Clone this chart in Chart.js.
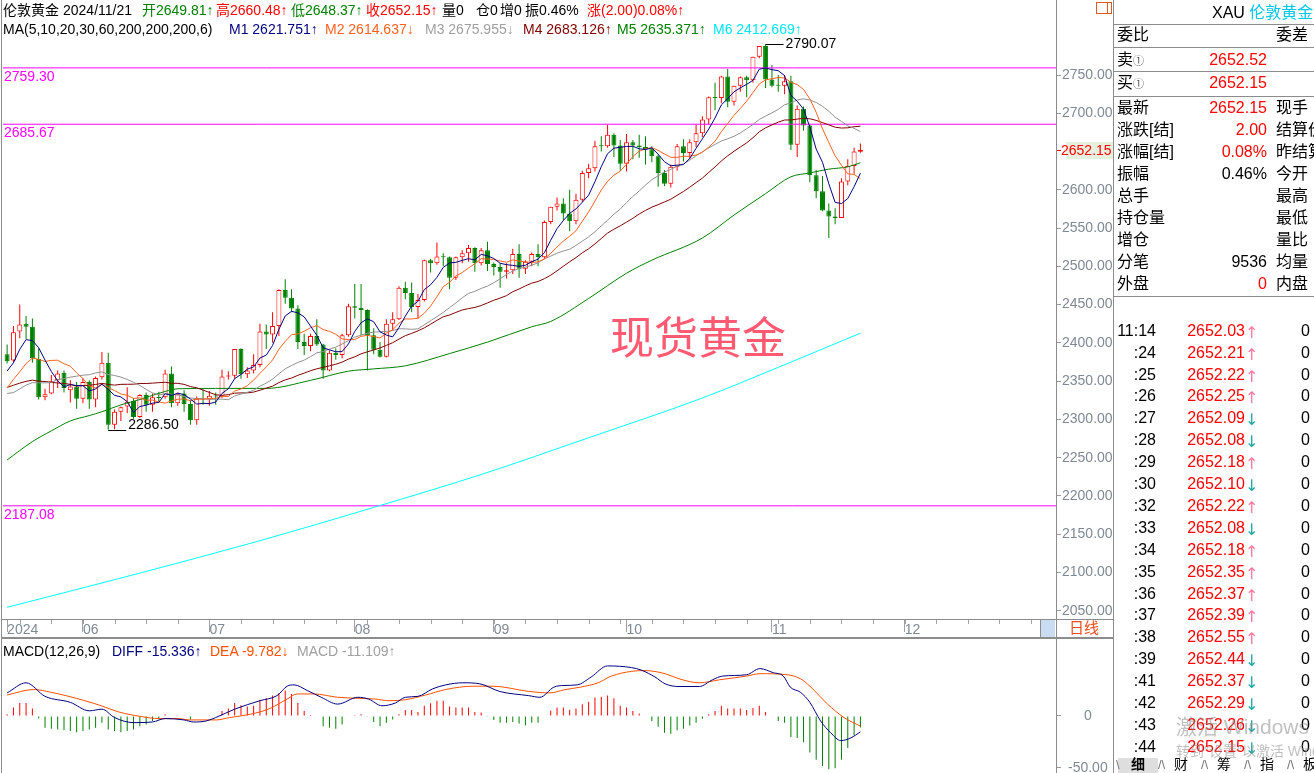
<!DOCTYPE html>
<html lang="zh">
<head>
<meta charset="utf-8">
<title>伦敦黄金 日线</title>
<script src="https://cdn.jsdelivr.net/npm/chart.js@4.4.1/dist/chart.umd.min.js"></script>
<style>
  html, body { margin: 0; padding: 0; background: #fff; }
  body { position: relative; width: 1314px; height: 773px; overflow: hidden;
         font-family: "Liberation Sans", "Noto Sans CJK SC", sans-serif; color: #000; }
  canvas { position: absolute; left: 0; }
  #kline { top: 0; }
  #macd { top: 638px; }
  .t { position: absolute; white-space: pre; font-size: 14px; line-height: 16px; }
  .p { position: absolute; white-space: pre; font-size: 16px; line-height: 20px; }
  .ln { position: absolute; background: #8c8c8c; }
  .wm { position: absolute; left: 610px; top: 311px; font-size: 44px; line-height: 48px;
        color: #ff5a72; font-family: "Noto Sans CJK SC", sans-serif; }
</style>
</head>
<body>
<canvas id="kline" width="1114" height="638"></canvas>
<canvas id="macd" width="1114" height="135"></canvas>
<div class="wm">现货黄金</div>
<script>
// daily candles, 2024-05-16 .. 2024-11-21 (index 0 .. 135)
const opens = [
  2385,2377,2415,2425,2421,2379,2329,2334,2351,2361,
  2338,2343,2327,2349,2326,2355,2374,2293,2310,2317,
  2324,2303,2332,2319,2329,2329,2360,2321,2334,2320,
  2299,2327,2326,2331,2330,2356,2357,2392,2359,2364,
  2371,2415,2411,2422,2469,2459,2445,2401,2396,2409,
  2398,2364,2387,2384,2410,2448,2446,2443,2410,2391,
  2382,2425,2431,2472,2465,2447,2456,2508,2504,2513,
  2512,2485,2512,2517,2524,2504,2521,2503,2499,2493,
  2495,2516,2497,2506,2516,2512,2558,2578,2582,2569,
  2559,2587,2622,2628,2658,2657,2672,2658,2634,2662,
  2658,2656,2653,2644,2622,2608,2630,2657,2648,2662,
  2674,2692,2721,2720,2748,2715,2736,2747,2743,2774,
  2788,2744,2737,2736,2742,2659,2706,2684,2619,2598,
  2573,2565,2563,2611,2631,2649.81
];
const highs = [
  2398,2422,2450,2435,2432,2393,2340,2358,2364,2364,
  2351,2349,2354,2351,2356,2388,2387,2313,2317,2342,
  2328,2333,2335,2334,2336,2365,2369,2335,2338,2325,
  2330,2339,2337,2335,2365,2363,2392,2393,2368,2385,
  2425,2424,2440,2470,2483,2470,2449,2412,2412,2431,
  2399,2390,2393,2412,2451,2477,2477,2444,2419,2401,
  2431,2440,2474,2480,2479,2464,2509,2510,2531,2517,
  2513,2513,2521,2528,2525,2524,2532,2505,2504,2504,
  2523,2529,2508,2518,2529,2560,2578,2590,2589,2600,
  2595,2625,2634,2664,2670,2685,2674,2665,2673,2665,
  2672,2670,2657,2646,2626,2633,2660,2666,2666,2685,
  2696,2722,2740,2749,2758,2736,2748,2749,2774,2786,
  2790.07,2763,2750,2750,2749,2710,2709,2685,2626,2618,
  2582,2576,2615,2640,2655,2660.48
];
const lows = [
  2373,2374,2406,2405,2374,2326,2325,2333,2341,2335,
  2322,2314,2321,2314,2316,2352,2286.5,2287,2298,2308,
  2301,2302,2310,2310,2323,2327,2316,2318,2310,2293,
  2293,2319,2318,2319,2328,2352,2353,2353,2354,2360,
  2368,2392,2400,2409,2451,2440,2392,2384,2389,2396,
  2353,2363,2378,2380,2408,2432,2410,2364,2385,2381,
  2381,2416,2430,2457,2440,2432,2454,2492,2502,2500,
  2470,2482,2504,2506,2493,2501,2494,2488,2472,2484,
  2490,2485,2490,2500,2500,2510,2555,2573,2560,2546,
  2555,2584,2615,2624,2650,2655,2643,2625,2624,2640,
  2642,2633,2636,2604,2605,2603,2625,2637,2640,2656,
  2669,2685,2704,2713,2708,2710,2728,2721,2740,2772,
  2733,2734,2728,2725,2652,2643,2677,2610,2589,2572,
  2537,2555,2563,2606,2621,2648.37
];
const closes = [
  2376,2414,2424,2421,2380,2329,2333,2350,2360,2341,
  2343,2327,2349,2326,2354,2374,2293,2310,2316,2323,
  2303,2332,2319,2329,2328,2360,2321,2333,2320,2299,
  2327,2326,2331,2330,2356,2357,2392,2359,2364,2371,
  2415,2411,2422,2469,2459,2445,2401,2396,2409,2398,
  2364,2387,2384,2410,2448,2446,2443,2410,2391,2382,
  2425,2431,2472,2465,2447,2456,2508,2504,2513,2512,
  2485,2512,2517,2524,2504,2521,2503,2499,2493,2495,
  2516,2497,2506,2516,2512,2558,2578,2582,2569,2559,
  2587,2622,2628,2657,2657,2672,2658,2634,2662,2658,
  2656,2653,2644,2622,2608,2630,2657,2648,2662,2674,
  2692,2721,2720,2748,2715,2736,2747,2743,2774,2788,
  2744,2736,2736,2742,2659,2706,2684,2619,2598,2573,
  2565,2563,2611,2631,2650,2652.15
];

// moving averages (M1..M4 one value per candle)
const ma5 = [
  2363.2,2374.0,2391.6,2404.2,2403.0,2393.6,2377.4,2362.6,2350.4,2342.6,
  2345.4,2344.2,2344.0,2337.2,2339.8,2346.0,2339.2,2331.4,2329.4,2323.2,
  2309.0,2316.8,2318.6,2321.2,2322.2,2333.6,2331.4,2334.2,2332.4,2326.6,
  2320.0,2321.0,2320.6,2322.6,2334.0,2340.0,2353.2,2358.8,2365.6,2368.6,
  2380.2,2384.0,2396.6,2417.6,2435.2,2441.2,2439.2,2434.0,2422.0,2409.8,
  2393.6,2390.8,2388.4,2388.6,2398.6,2415.0,2426.2,2431.4,2427.6,2414.4,
  2410.2,2407.8,2420.2,2435.0,2448.0,2454.2,2469.6,2476.0,2485.6,2498.6,
  2504.4,2505.2,2507.8,2510.0,2508.4,2515.6,2513.8,2510.2,2504.0,2502.2,
  2501.2,2500.0,2501.4,2506.0,2509.4,2517.8,2534.0,2549.2,2559.8,2569.2,
  2575.0,2583.8,2593.0,2610.6,2630.2,2647.2,2654.4,2655.6,2656.6,2656.8,
  2653.6,2652.6,2654.6,2646.6,2636.6,2631.4,2632.2,2633.0,2641.0,2654.2,
  2666.6,2679.4,2693.8,2711.0,2719.2,2728.0,2733.2,2737.8,2743.0,2757.6,
  2759.2,2757.0,2755.6,2749.2,2723.4,2715.8,2705.4,2682.0,2653.2,2636.0,
  2607.8,2583.6,2582.0,2588.6,2604.0,2621.8
];
const ma10 = [
  2340.9,2352.2,2362.3,2373.0,2380.1,2378.4,2375.7,2377.1,2377.3,2372.8,
  2369.5,2360.8,2353.3,2343.8,2341.2,2345.7,2341.7,2337.7,2333.3,2331.5,
  2327.5,2328.0,2325.0,2325.3,2322.7,2321.3,2324.1,2326.4,2326.8,2324.4,
  2326.8,2326.2,2327.4,2327.5,2330.3,2330.0,2337.1,2339.7,2344.1,2351.3,
  2360.1,2368.6,2377.7,2391.6,2401.9,2410.7,2411.6,2415.3,2419.8,2422.5,
  2417.4,2415.0,2411.2,2405.3,2404.2,2404.3,2408.5,2409.9,2408.1,2406.5,
  2412.6,2417.0,2425.8,2431.3,2431.2,2432.2,2438.7,2448.1,2460.3,2473.3,
  2479.3,2487.4,2491.9,2497.8,2503.5,2510.0,2509.5,2509.0,2507.0,2505.3,
  2508.4,2506.9,2505.8,2505.0,2505.8,2509.5,2517.0,2525.3,2532.9,2539.3,
  2546.4,2558.9,2571.1,2585.2,2599.7,2611.1,2619.1,2624.3,2633.6,2643.5,
  2650.4,2653.5,2655.1,2651.6,2646.7,2642.5,2642.4,2643.8,2643.8,2645.4,
  2649.0,2655.8,2663.4,2676.0,2686.7,2697.3,2706.3,2715.8,2727.0,2738.4,
  2743.6,2745.1,2746.7,2746.1,2740.5,2737.5,2731.2,2718.8,2701.2,2679.7,
  2661.8,2644.5,2632.0,2620.9,2620.0,2614.6
];
const ma20 = [
  2333.9,2335.0,2339.9,2344.8,2348.0,2347.9,2347.7,2348.4,2352.1,2353.2,
  2355.2,2356.5,2357.8,2358.4,2360.7,2362.1,2358.7,2357.4,2355.3,2352.2,
  2348.5,2344.4,2339.2,2334.6,2332.0,2333.5,2332.9,2332.1,2330.1,2328.0,
  2327.2,2327.1,2326.2,2326.4,2326.5,2325.7,2330.6,2333.1,2335.5,2337.9,
  2343.5,2347.4,2352.6,2359.6,2366.1,2370.4,2374.4,2377.5,2382.0,2386.9,
  2388.8,2391.8,2394.5,2398.5,2403.1,2407.5,2410.1,2412.6,2414.0,2414.5,
  2415.0,2416.0,2418.5,2418.3,2417.7,2418.3,2423.6,2429.0,2434.2,2439.9,
  2446.0,2452.2,2458.9,2464.6,2467.4,2471.1,2474.1,2478.6,2483.7,2489.3,
  2493.9,2497.2,2498.9,2501.4,2504.7,2509.8,2513.3,2517.2,2520.0,2522.3,
  2527.4,2532.9,2538.5,2545.1,2552.8,2560.3,2568.1,2574.8,2583.3,2591.4,
  2598.4,2606.2,2613.1,2618.4,2623.2,2626.8,2630.8,2634.1,2638.7,2644.5,
  2649.7,2654.7,2659.3,2663.8,2666.7,2669.9,2674.4,2679.8,2685.4,2691.9,
  2696.3,2700.5,2705.1,2711.1,2713.6,2717.4,2718.8,2717.3,2714.1,2709.1,
  2702.7,2694.8,2689.4,2683.5,2680.3,2676.0
];
const ma30 = [
  2341.8,2344.6,2347.4,2349.7,2351.3,2349.9,2349.5,2348.4,2347.6,2347.0,
  2345.8,2343.6,2344.3,2344.5,2345.7,2347.1,2345.7,2344.8,2345.8,2345.9,
  2346.0,2347.0,2346.9,2347.4,2348.0,2348.5,2347.2,2347.1,2345.8,2342.9,
  2341.3,2338.3,2335.2,2332.2,2331.4,2332.3,2334.3,2334.6,2334.7,2335.7,
  2338.1,2340.9,2343.4,2348.1,2351.6,2354.0,2357.6,2360.5,2363.6,2366.1,
  2368.1,2369.9,2372.1,2374.8,2378.8,2381.7,2385.7,2388.3,2390.7,2393.4,
  2396.7,2400.2,2404.9,2409.4,2412.4,2415.7,2419.6,2424.4,2429.4,2434.1,
  2436.4,2439.8,2443.0,2444.8,2446.3,2448.8,2452.2,2455.7,2458.5,2461.7,
  2466.8,2470.4,2474.5,2478.0,2480.2,2483.9,2488.4,2494.1,2500.1,2506.0,
  2511.4,2517.7,2522.9,2529.3,2536.3,2543.5,2548.5,2552.9,2557.8,2562.7,
  2568.4,2573.1,2577.3,2580.6,2584.1,2587.7,2592.8,2597.8,2603.4,2609.4,
  2615.3,2622.7,2629.9,2637.6,2644.4,2650.3,2655.9,2661.3,2668.1,2675.8,
  2681.0,2684.8,2688.4,2691.2,2691.3,2692.4,2693.3,2692.8,2690.7,2687.8,
  2684.8,2681.8,2680.7,2681.0,2682.4,2683.1
];
// M5 / M6 read at spaced candles: [candle index, value]
const ma60Pts = [[0,2247],[4,2271],[7,2285],[10,2298],[13,2305],[15,2310],[18,2319],[21,2326],
  [24,2334],[27,2340],[33,2340.5],[41,2340.5],[48,2351],[54,2363],[58,2366],[63,2370],[70,2386],
  [76,2401],[83,2421],[86,2428],[92,2458],[98,2491],[102,2508],[110,2537],[115,2567],[120,2595],
  [124,2617],[127,2622],[130,2627],[133,2630],[135,2635.4]];
const ma200Pts = [[0,2054.5],[20,2097],[40,2141.5],[58,2185],[75,2228],[92,2276],[110,2328],
  [122,2368],[135,2412.7]];

const levels = [2759.30, 2685.67, 2187.08];
const lastPrice = 2652.15;
const yTicks = [2050,2100,2150,2200,2250,2300,2350,2400,2450,2500,2550,2600,2700,2750];
const monthLabels = ['2024','06','07','08','09','10','11','12'];
const monthIdx = [0, 12, 32, 55, 77, 98, 121, 142];
const weekIdx = [2,7,12,17,22,27,32,37,42,47,52,57,62,67,72,77,82,87,92,97,102,107,112,117,
  122,127,132,137,142,147,152,157,162];

// MACD(12,26,9)
const diffPts = [[0,22.3],[3,32.1],[6,19.0],[10,13.2],[13,5.0],[15,6.6],[17,-1.5],[20,-6.4],
  [23,-5.8],[25,-2.5],[28,-3.8],[29.5,-5.8],[31.5,-4.8],[33,-1.5],[36,6.6],[40,14.8],[42.7,19.7],
  [44.3,28.8],[45.4,30.1],[47.5,24.6],[49.7,18.1],[52.3,11.5],[55.5,18.1],[57.2,16.4],[59.3,9.9],
  [61.4,12.5],[63,18.1],[65,19.0],[67.3,26.2],[69.4,30.1],[72.1,32.1],[74.8,31.1],[78,23.6],
  [82.5,19.7],[84.3,18.1],[86.5,27.9],[88.1,29.5],[90.2,30.1],[92.4,37.7],[95,48.4],[98.8,46.8],
  [100.4,44.2],[102.5,37.7],[104.1,31.1],[106.3,28.5],[109.5,28.5],[111.6,35.0],[113.2,38.6],
  [117,39.9],[119.1,45.8],[121.2,41.9],[122.8,38.6],[123.9,27.9],[125.5,23.0],[127,13.2],
  [128.7,-4.8],[130.3,-16.2],[131.9,-23.8],[133.5,-21.1],[135,-15.3]];
const deaPts = [[0,20.3],[4.2,25.6],[6.9,23.0],[12.3,14.8],[14.9,9.9],[17.6,4.0],[21.3,-0.6],
  [24,-2.5],[27.2,-2.5],[28.8,-3.8],[33.1,-3.8],[35.2,-1.5],[38.5,1.7],[41.6,7.3],[44.3,16.4],
  [45.9,21.3],[48.5,21.3],[52.3,18.1],[55.5,17.1],[58.2,16.4],[60.4,14.8],[63,15.7],[66.2,20.3],
  [69.4,25.6],[73.7,28.8],[76.9,28.8],[82.5,23.8],[85.9,22.3],[88.1,25.3],[90.7,27.9],[93.5,32.1],
  [95.6,38.6],[98.8,43.2],[100.9,43.9],[104.1,40.9],[106.3,36.0],[109.5,32.1],[112.7,35.0],
  [117,38.6],[119.1,40.9],[123.4,39.9],[125.5,36.0],[127,28.8],[129.8,11.5],[132.4,-1.5],[135,-9.8]];
const macdHist = [
  1.7,8.3,12.5,12.5,7.3,-2.5,-11.4,-12.3,-13.0,-13.6,
  -14.6,-15.6,-14.6,-13.0,-11.4,-6.5,-13.0,-14.6,-15.6,-14.6,
  -13.0,-9.8,-8.2,-4.9,-3.3,1.6,-0.5,0.3,0.8,-3.3,
  -0.6,0.4,0.2,0.4,4.9,7.2,12.5,10.5,9.2,9.8,
  15.8,17.1,19.7,22.3,24.6,21.3,12.5,4.9,1.0,-0.5,
  -9.8,-11.4,-12.4,-8.2,-0.6,1.0,1.6,-0.3,-5.9,-9.8,
  -6.5,-3.3,1.6,5.9,5.9,3.9,9.8,12.4,14.7,14.7,
  9.2,8.2,8.2,8.2,3.9,3.4,-0.3,-3.9,-6.5,-6.5,
  -5.9,-7.2,-9.1,-6.5,-6.5,-0.5,5.0,8.2,8.2,6.0,
  7.2,11.4,13.8,18.0,18.7,19.7,17.1,9.8,8.2,4.9,
  2.3,0.4,-4.9,-10.5,-16.3,-17.2,-13.7,-12.4,-9.1,-6.5,
  -2.6,1.7,4.9,9.8,7.2,7.2,7.2,5.9,7.8,9.8,
  3.9,0.4,-4.9,-6.5,-20.2,-21.2,-25.4,-35.2,-42.4,-48.3,
  -51.5,-50.5,-42.4,-31.0,-18.9,-11.1
];
const macdTicks = [0, -50];

// right-hand quote panel
const bookLabels = ['卖', '买'];
const bookPrices = ['2652.52', '2652.15'];
const quoteLabels = ['最新','涨跌[结]','涨幅[结]','振幅','总手','持仓量','增仓','分笔','外盘'];
const quoteValues = ['2652.15','2.00','0.08%','0.46%','','','','9536','0'];
const quoteColors = ['#f00','#f00','#f00','#000','#000','#000','#000','#000','#f00'];
const quoteRight = ['现手','结算价','昨结算','今开','最高','最低','量比','均量','内盘'];
const tickTimes = ['11:14',':24',':25',':26',':27',':28',':29',':30',':32',':33',
  ':34',':35',':36',':37',':38',':39',':41',':42',':43',':44'];
const tickPrices = ['2652.03','2652.21','2652.22','2652.25','2652.09','2652.08','2652.18','2652.10',
  '2652.22','2652.08','2652.18','2652.35','2652.37','2652.39','2652.55','2652.44','2652.37',
  '2652.29','2652.26','2652.15'];
const tickUp = [1,1,1,1,0,0,1,0,1,0,1,1,1,1,1,0,0,0,0,0];

const FONT = '"Liberation Sans", "Noto Sans CJK SC", sans-serif';
const RED = '#ff0000', GREEN = '#008000', AXIS = '#7f8995';
const xMin = -0.65, xMax = 166.1;
const idx = closes.map((_, i) => i);
const up = closes.map((c, i) => c >= opens[i]);
const pts = arr => arr.map((v, i) => ({x: i, y: v}));
const pairs = arr => arr.map(([x, y]) => ({x, y}));
const line = {type: 'line', pointRadius: 0, borderWidth: 1, fill: false, tension: 0};

// keep the plot area flush with the canvas edges (no room reserved for label overhang)
const fitY = s => { s.width = 57; s.paddingTop = 0; s.paddingBottom = 0; };
const fitX = s => { s.height = 19; s.paddingLeft = 0; s.paddingRight = 0; };

const klineMarks = {
  id: 'klineMarks',
  afterDatasetsDraw(chart) {
    const {ctx, chartArea: a, scales: {x, y}} = chart;
    ctx.save();
    ctx.font = '14px ' + FONT;
    ctx.fillStyle = '#ff00ff';
    ctx.textBaseline = 'top';
    levels.forEach(v => ctx.fillText(v.toFixed(2), a.left + 1, y.getPixelForValue(v) + 2));

    const hi = highs.indexOf(Math.max(...highs));
    const lo = lows.indexOf(Math.min(...lows));
    ctx.strokeStyle = '#000';
    ctx.fillStyle = '#000';
    ctx.lineWidth = 1;
    let px = x.getPixelForValue(hi), py = Math.round(y.getPixelForValue(highs[hi])) + 0.5;
    ctx.beginPath(); ctx.moveTo(px, py); ctx.lineTo(px + 18, py); ctx.stroke();
    ctx.textBaseline = 'middle';
    ctx.fillText(highs[hi].toFixed(2), px + 20, py);
    px = x.getPixelForValue(lo); py = Math.round(y.getPixelForValue(lows[lo])) + 0.5;
    ctx.beginPath(); ctx.moveTo(px, py); ctx.lineTo(px + 18, py); ctx.stroke();
    ctx.textBaseline = 'alphabetic';
    ctx.fillText(lows[lo].toFixed(2), px + 20, py - 2);
    ctx.restore();
  },
  afterDraw(chart) {
    const {ctx, chartArea: a, scales: {x, y}} = chart;
    ctx.save();
    // weekly marks on the date strip
    ctx.strokeStyle = '#a0a0a0';
    ctx.lineWidth = 1;
    ctx.beginPath();
    weekIdx.forEach(i => {
      const px = Math.round(x.getPixelForValue(i)) + 0.5;
      if (px < a.right - 18) { ctx.moveTo(px, a.bottom); ctx.lineTo(px, a.bottom + 5); }
    });
    ctx.stroke();
    // last price tag on the price axis
    const py = Math.round(y.getPixelForValue(lastPrice));
    ctx.fillStyle = '#e6f0de';
    ctx.fillRect(a.right + 9, py - 8, 57, 17);
    ctx.strokeStyle = RED;
    ctx.beginPath(); ctx.moveTo(a.right, py + 0.5); ctx.lineTo(a.right + 4, py + 0.5); ctx.stroke();
    ctx.fillStyle = RED;
    ctx.font = '14px ' + FONT;
    ctx.textBaseline = 'middle';
    ctx.fillText(lastPrice.toFixed(2), a.right + 4, py + 1);
    ctx.restore();
  }
};

new Chart(document.getElementById('kline'), {
  type: 'bar',
  data: {
    datasets: [
      {...line, data: pts(ma5), borderColor: '#000080', order: 0},
      {...line, data: pts(ma10), borderColor: '#ff6020', order: 0},
      {...line, data: pts(ma20), borderColor: '#909090', order: 0},
      {...line, data: pts(ma30), borderColor: '#800000', order: 0},
      {...line, data: pairs(ma60Pts), borderColor: '#008000', cubicInterpolationMode: 'monotone', order: 0},
      {...line, data: pairs(ma200Pts), borderColor: '#00ffff', cubicInterpolationMode: 'monotone', order: 0},
      ...levels.map(v => ({...line, data: [{x: xMin, y: v}, {x: xMax, y: v}], borderColor: '#ff00ff', order: 1})),
      {
        data: idx.map(i => ({x: i, y: [lows[i], highs[i]]})),
        backgroundColor: up.map(u => u ? RED : GREEN),
        barThickness: 1, grouped: false, inflateAmount: 0, order: 3
      },
      {
        data: idx.map(i => ({x: i, y: [opens[i], closes[i]]})),
        backgroundColor: up.map(u => u ? '#ffffff' : GREEN),
        borderColor: up.map(u => u ? RED : GREEN),
        borderWidth: 1, borderSkipped: false, barThickness: 5, minBarLength: 1,
        grouped: false, inflateAmount: 0, order: 2
      }
    ]
  },
  options: {
    responsive: false,
    animation: false,
    events: [],
    layout: {padding: {left: 3, top: 0, right: 0, bottom: 0}},
    plugins: {legend: {display: false}, tooltip: {enabled: false}},
    scales: {
      x: {
        type: 'linear', min: xMin, max: xMax, offset: false,
        afterBuildTicks: s => { s.ticks = monthIdx.map(v => ({value: v})); },
        afterFit: fitX,
        grid: {offset: false, drawOnChartArea: false, drawTicks: true, tickLength: 13, color: '#a0a0a0'},
        border: {display: false},
        ticks: {
          autoSkip: false, maxRotation: 0, minRotation: 0, align: 'start', padding: -10,
          color: AXIS, font: {size: 14, family: FONT},
          callback: v => monthLabels[monthIdx.indexOf(v)]
        }
      },
      y: {
        type: 'linear', position: 'right', min: 2039.2, max: 2848, beginAtZero: false,
        afterBuildTicks: s => { s.ticks = yTicks.map(v => ({value: v})); },
        afterFit: fitY,
        grid: {drawOnChartArea: false, drawTicks: true, tickLength: 4, color: '#9a9a9a'},
        border: {display: false},
        ticks: {padding: 1, color: AXIS, font: {size: 14, family: FONT}, callback: v => v.toFixed(2)}
      }
    }
  },
  plugins: [klineMarks]
});

new Chart(document.getElementById('macd'), {
  type: 'bar',
  data: {
    datasets: [
      {...line, data: pairs(diffPts), borderColor: '#000080', cubicInterpolationMode: 'monotone', order: 0},
      {...line, data: pairs(deaPts), borderColor: '#ff5000', cubicInterpolationMode: 'monotone', order: 1},
      {
        data: pts(macdHist),
        backgroundColor: macdHist.map(v => v >= 0 ? RED : GREEN),
        barThickness: 1, inflateAmount: 0, order: 2
      }
    ]
  },
  options: {
    responsive: false,
    animation: false,
    events: [],
    layout: {padding: {left: 3, top: 0, right: 0, bottom: 0}},
    plugins: {legend: {display: false}, tooltip: {enabled: false}},
    scales: {
      x: {type: 'linear', min: xMin, max: xMax, offset: false, display: false, grid: {offset: false}},
      y: {
        type: 'linear', position: 'right', min: -55.1, max: 75.4, beginAtZero: false,
        afterBuildTicks: s => { s.ticks = macdTicks.map(v => ({value: v})); },
        afterFit: fitY,
        grid: {drawOnChartArea: false, drawTicks: true, tickLength: 4, color: '#9a9a9a'},
        border: {display: false},
        ticks: {padding: 7, crossAlign: 'center', color: AXIS, font: {size: 14, family: FONT},
                callback: v => v === 0 ? '0' : v.toFixed(2)}
      }
    }
  }
});

// text and frame overlays
function add(html, style, cls = 'p') {
  const d = document.createElement('div');
  d.className = cls;
  d.innerHTML = html;
  d.style.cssText += style;
  document.body.appendChild(d);
}
function rule(l, t, w, h, c) {
  add('', `left:${l}px;top:${t}px;width:${w}px;height:${h}px;` + (c ? `background:${c};` : ''), 'ln');
}

const head1 = [[3,'伦敦黄金','#000'],[63,'2024/11/21','#000'],[142,'开2649.81↑',GREEN],
  [216,'高2660.48↑',RED],[291,'低2648.37↑',GREEN],[366,'收2652.15↑',RED],[442,'量0','#000'],
  [476,'仓0','#000'],[500,'增0','#000'],[525,'振0.46%','#000'],[587,'涨(2.00)0.08%↑',RED]];
const head2 = [[3,'MA(5,10,20,30,60,200,200,200,6)','#000'],[229,'M1 2621.751↑','#000080'],
  [325,'M2 2614.637↓','#ff6020'],[425,'M3 2675.955↓','#a0a0a0'],[523,'M4 2683.126↑','#800000'],
  [617,'M5 2635.371↑','#008000'],[713,'M6 2412.669↑','#00e8ff']];
const head3 = [[3,'MACD(12,26,9)','#000'],[112,'DIFF -15.336↑','#000080'],
  [210,'DEA -9.782↓','#ff5000'],[297,'MACD -11.109↑','#a0a0a0']];
head1.forEach(([l, s, c]) => add(s, `left:${l}px;top:2px;color:${c};`, 't'));
head2.forEach(([l, s, c]) => add(s, `left:${l}px;top:21px;color:${c};`, 't'));
head3.forEach(([l, s, c]) => add(s, `left:${l}px;top:643px;color:${c};`, 't'));

// frame
rule(1, 0, 1, 773);
rule(1056, 0, 1, 773);
rule(1113, 0, 1, 773);
rule(1, 619, 1113, 1);
rule(1, 637, 1113, 2);
rule(1040, 619, 1, 18);
add('', 'left:1041px;top:620px;width:14px;height:17px;background:#c9dcf2;', 'ln');
add('日线', 'left:1069px;top:619px;font-size:15px;line-height:18px;color:#f04818;');
add('', 'left:1096px;top:2px;width:14px;height:10px;background:transparent;border:1px solid #e05a20;', 'ln');
add('', 'left:1107px;top:2px;width:1px;height:12px;background:#e05a20;', 'ln');

// quote panel
rule(1114, 24, 200, 1);
rule(1114, 47, 200, 1);
rule(1114, 71, 200, 1);
rule(1114, 96, 200, 1);
rule(1114, 296, 200, 1);
add('XAU <span style="color:#00c8e8">伦敦黄金</span>', 'left:1212px;top:3px;');
add('委比', 'left:1117px;top:25px;');
add('委差', 'left:1276px;top:25px;');
bookLabels.forEach((s, k) => {
  const cy = 60 + k * 23;
  add(s + '<span style="font-size:11px;color:#555">①</span>', `left:1117px;top:${cy - 10}px;`);
  add(bookPrices[k], `right:47px;top:${cy - 10}px;color:#f00;`);
});
quoteLabels.forEach((s, k) => {
  const top = 97.5 + k * 22;
  add(s, `left:1117px;top:${top}px;`);
  if (quoteValues[k]) add(quoteValues[k], `right:47px;top:${top}px;color:${quoteColors[k]};`);
  add(quoteRight[k], `left:1276px;top:${top}px;`);
});
tickTimes.forEach((s, k) => {
  const top = 320.7 + k * 21.9;
  add(s, `right:158px;top:${top}px;`);
  add(tickPrices[k], `right:69px;top:${top}px;color:#f00;`);
  add(tickUp[k] ? '↑' : '↓', `left:1245px;top:${top + 2}px;font-size:16px;font-family:"DejaVu Sans",sans-serif;color:${tickUp[k] ? '#ff7aa0' : '#20a8a8'};`);
  add('0', `right:4px;top:${top}px;`);
});

// bottom tabs
add('', 'left:1118px;top:758px;width:40px;height:15px;background:#dedede;', 'ln');
[['细',1131,'bold'],['财',1174,'normal'],['筹',1217,'normal'],['指',1260,'normal'],['板',1303,'normal']]
  .forEach(([s, l, w]) => add(s, `left:${l}px;top:756px;font-size:14px;line-height:17px;font-weight:${w};`));
[1116, 1158, 1201, 1244, 1287].forEach((l, k) =>
  add(k ? '/\\' : '\\', `left:${l}px;top:756px;font-size:13px;line-height:17px;color:#777;`));

// system watermark
add('激活 Windows', 'left:1176px;top:715px;font-size:21px;line-height:24px;color:rgba(140,140,140,0.55);');
add('转到"设置"以激活 Windows。', 'left:1176px;top:743px;font-size:14px;line-height:16px;color:rgba(140,140,140,0.55);');
</script>
</body>
</html>
